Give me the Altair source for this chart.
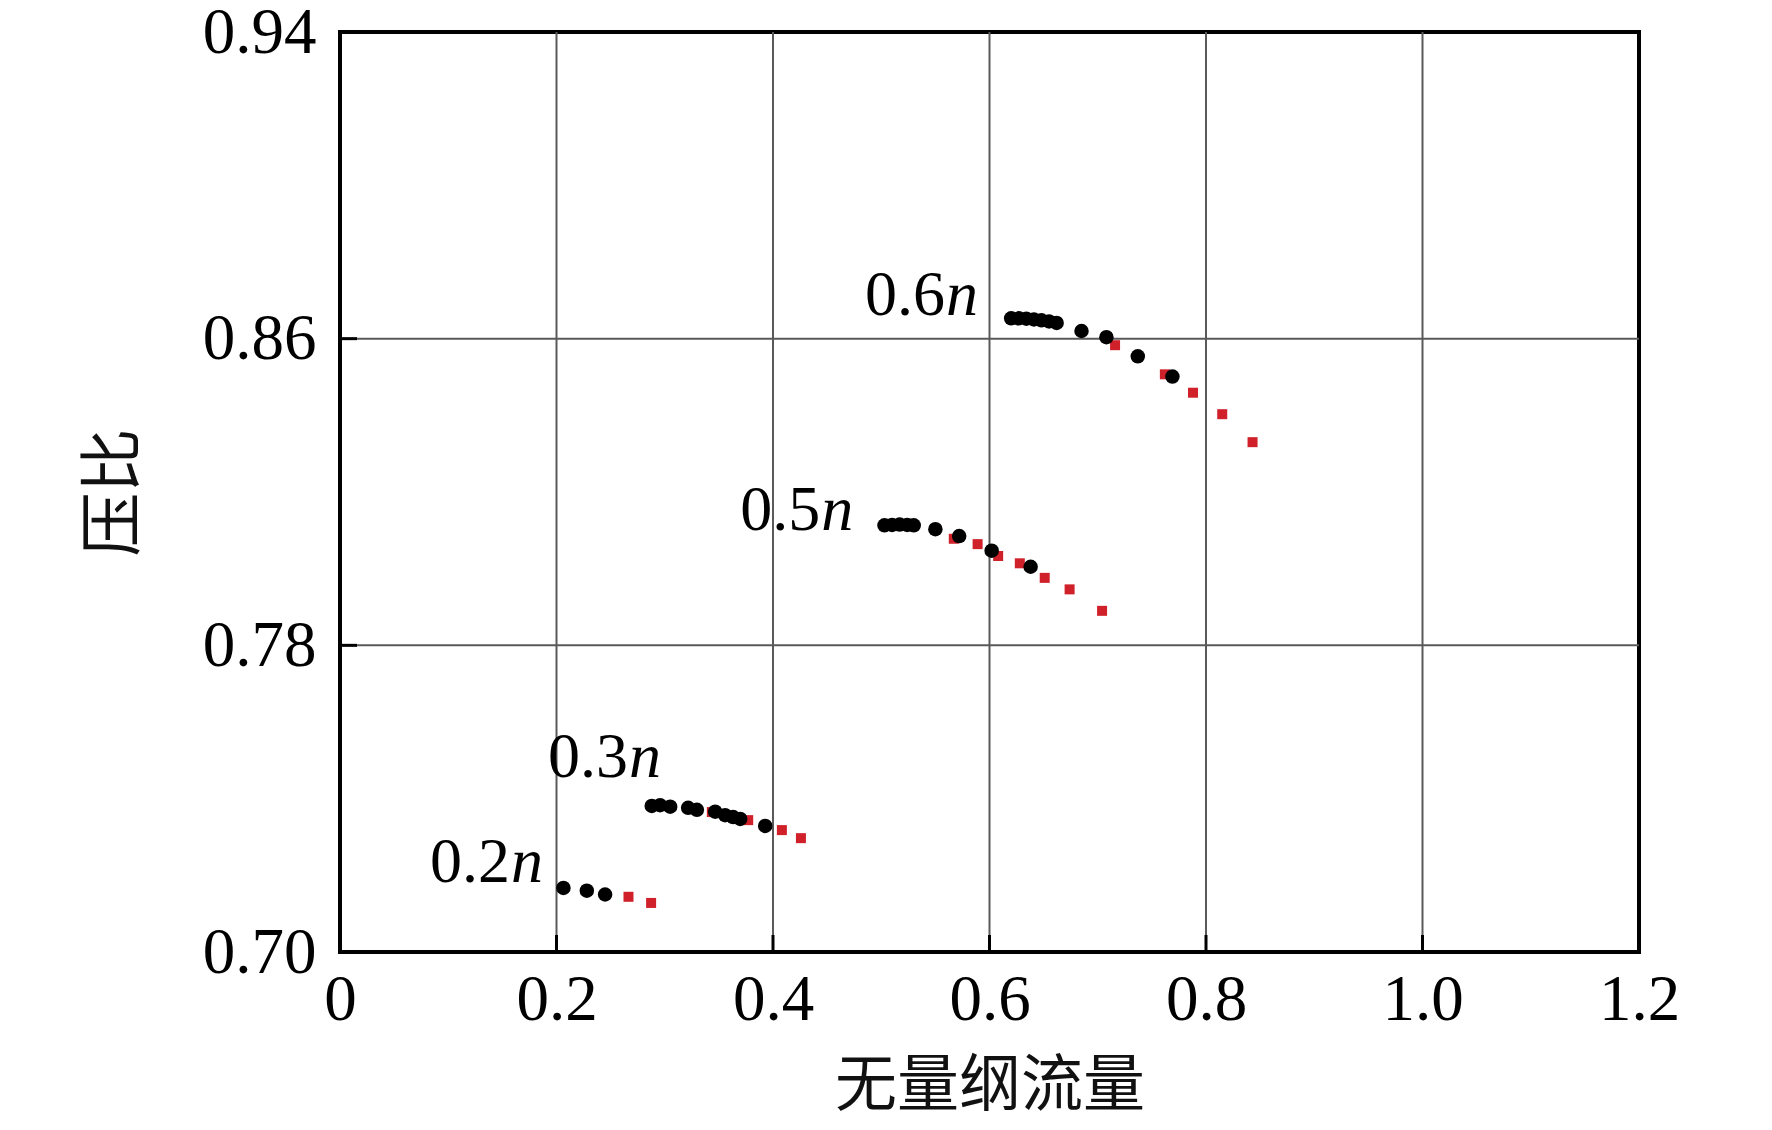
import altair as alt
import pandas as pd

# ---- data ----
black_speed = (["0.2n"] * 3 + ["0.3n"] * 10 + ["0.5n"] * 9 + ["0.6n"] * 11)
black_x = [0.2064, 0.2280, 0.2449,
           0.288, 0.2957, 0.305, 0.3216, 0.3297, 0.3466, 0.3558, 0.3632, 0.3697, 0.3928,
           0.503, 0.510, 0.517, 0.524, 0.530, 0.550, 0.572, 0.602, 0.638,
           0.620, 0.627, 0.634, 0.641, 0.648, 0.655, 0.662, 0.685, 0.708, 0.737, 0.769]
black_y = [0.7167, 0.7160, 0.7150,
           0.7381, 0.7383, 0.7379, 0.7376, 0.7371, 0.7366, 0.7357, 0.7352, 0.7347, 0.7329,
           0.8113, 0.8114, 0.8115, 0.8114, 0.8113, 0.8103, 0.8085, 0.8047, 0.8005,
           0.8653, 0.8653, 0.8652, 0.8650, 0.8648, 0.8645, 0.8641, 0.8620, 0.8604, 0.8554, 0.8501]

red_speed = (["0.2n"] * 2 + ["0.3n"] * 4 + ["0.5n"] * 7 + ["0.6n"] * 5)
red_x = [0.2665, 0.2874,
         0.3435, 0.3771, 0.4082, 0.4258,
         0.567, 0.589, 0.608, 0.628, 0.651, 0.674, 0.704,
         0.716, 0.762, 0.788, 0.815, 0.843]
red_y = [0.7144, 0.7128,
         0.7365, 0.7344, 0.7318, 0.7297,
         0.8078, 0.8064, 0.8033, 0.8014, 0.7976, 0.7946, 0.7890,
         0.8583, 0.8507, 0.8459, 0.8403, 0.8330]

label_base = ["0.6", "0.5", "0.3", "0.2"]
label_x = [0.559, 0.4436, 0.266, 0.157]
label_y = [0.8662, 0.8101, 0.7456, 0.7183]

x_ticks = [0, 0.2, 0.4, 0.6, 0.8, 1.0, 1.2]
y_ticks = [0.70, 0.78, 0.86, 0.94]
x_grid = [0.2, 0.4, 0.6, 0.8, 1.0]
y_grid = [0.78, 0.86]

black_df = pd.DataFrame({"x": black_x, "y": black_y, "speed": black_speed})
red_df = pd.DataFrame({"x": red_x, "y": red_y, "speed": red_speed})
lab_df = pd.DataFrame({"x": label_x, "y": label_y, "base": label_base})
xg_df = pd.DataFrame({"x": x_grid})
yg_df = pd.DataFrame({"y": y_grid})

SERIF = "'Liberation Serif', 'Times New Roman', Times, serif"
CJK = "Noto Sans CJK SC"

xscale = alt.Scale(domain=[0, 1.2], nice=False, zero=False)
yscale = alt.Scale(domain=[0.70, 0.94], nice=False, zero=False)

xaxis = alt.Axis(values=x_ticks, labelExpr="datum.value == 0 ? '0' : format(datum.value, '.1f')",
                 labelFont=SERIF, labelFontSize=65, labelColor="black", ticks=False,
                 domain=False, grid=False, labelPadding=16, labelFlush=False,
                 labelOverlap=False, labelBound=False,
                 title="无量纲流量", titleFont=CJK, titleFontSize=62, titleFontWeight="normal",
                 titleColor="#111111", titlePadding=24)
yaxis = alt.Axis(values=y_ticks, format=".2f",
                 labelFont=SERIF, labelFontSize=65, labelColor="black", ticks=False,
                 domain=False, grid=False, labelPadding=24, labelOverlap=False,
                 labelBound=False, labelFlush=False,
                 title="压比", titleFont=CJK, titleFontSize=64, titleFontWeight="normal",
                 titleColor="#111111", titlePadding=56)

vgrid = alt.Chart(xg_df).mark_rule(color="#5a5a5a", strokeWidth=2).encode(
    x=alt.X("x:Q", scale=xscale, axis=xaxis),
    y=alt.value(0), y2=alt.value(920))
hgrid = alt.Chart(yg_df).mark_rule(color="#5a5a5a", strokeWidth=2).encode(
    y=alt.Y("y:Q", scale=yscale, axis=yaxis),
    x=alt.value(0), x2=alt.value(1299))
xtick = alt.Chart(xg_df).mark_rule(color="black", strokeWidth=3).encode(
    x=alt.X("x:Q", scale=xscale), y=alt.value(920), y2=alt.value(903))
ytick = alt.Chart(yg_df).mark_rule(color="black", strokeWidth=3).encode(
    y=alt.Y("y:Q", scale=yscale), x=alt.value(0), x2=alt.value(17))

red = alt.Chart(red_df).mark_point(shape="square", filled=True, color="#d0202a",
                                   size=100, opacity=1).encode(
    x=alt.X("x:Q", scale=xscale), y=alt.Y("y:Q", scale=yscale), detail="speed:N")
black = alt.Chart(black_df).mark_point(shape="circle", filled=True, color="black",
                                       size=210, opacity=1).encode(
    x=alt.X("x:Q", scale=xscale), y=alt.Y("y:Q", scale=yscale), detail="speed:N")

lab1 = alt.Chart(lab_df).mark_text(font=SERIF, fontSize=64, align="right",
                                   baseline="alphabetic", color="black").encode(
    x=alt.X("x:Q", scale=xscale), y=alt.Y("y:Q", scale=yscale), text="base:N")
lab2 = alt.Chart(lab_df).mark_text(font=SERIF, fontSize=64, fontStyle="italic", align="left",
                                   baseline="alphabetic", color="black", text="n", dx=1).encode(
    x=alt.X("x:Q", scale=xscale), y=alt.Y("y:Q", scale=yscale))

chart = alt.layer(vgrid, hgrid, xtick, ytick, red, black, lab1, lab2).properties(
    width=1299, height=920,
    autosize=alt.AutoSizeParams(type="none"),
    padding={"left": 332, "top": 24, "right": 125, "bottom": 170},
    background="white",
).configure_view(stroke="black", strokeWidth=4)

chart.save("out.html", embed_options={"renderer": "svg", "actions": False})
